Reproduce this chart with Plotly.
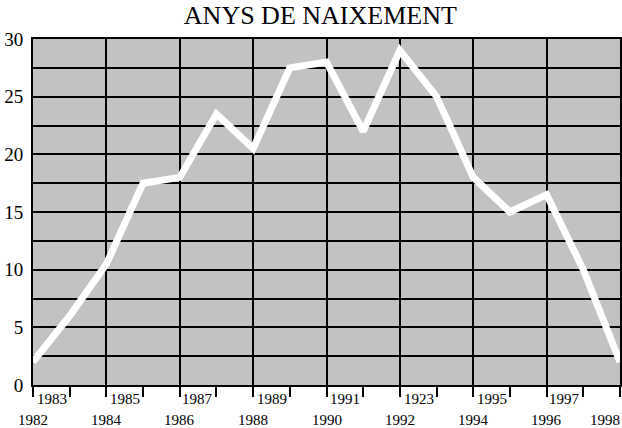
import plotly.graph_objects as go

years = list(range(1982, 1999))
values = [2, 6, 10.5, 17.5, 18, 23.5, 20.5, 27.5, 28, 22, 29, 25, 18, 15, 16.5, 10, 2]
even_years = [y for y in years if y % 2 == 0]
even_labels = [str(y) for y in even_years]
odd_years = [y for y in years if y % 2 == 1]
odd_labels = ["1983", "1985", "1987", "1989", "1991", "1923", "1995", "1997"]
y_ticks = [0, 5, 10, 15, 20, 25, 30]

FONT = "Liberation Serif"

fig = go.Figure()
fig.add_trace(go.Scatter(
    x=years, y=values, mode="lines",
    line=dict(color="white", width=7),
    hoverinfo="skip", showlegend=False, cliponaxis=True,
))

for yr, lab in zip(odd_years, odd_labels):
    fig.add_annotation(
        x=yr, y=0, xref="x", yref="paper", text=lab, showarrow=False,
        xanchor="right", yanchor="middle", xshift=-1, yshift=-14,
        font=dict(family=FONT, size=15, color="black"),
    )

for i, (yr, lab) in enumerate(zip(even_years, even_labels)):
    last = i == len(even_years) - 1
    fig.add_annotation(
        x=yr, y=0, xref="x", yref="paper", text=lab, showarrow=False,
        xanchor="right" if last else "center", yanchor="middle",
        xshift=2 if last else 0, yshift=-35,
        font=dict(family=FONT, size=15, color="black"),
    )

fig.update_layout(
    width=622, height=428,
    margin=dict(l=33, r=2, t=39, b=43, autoexpand=False),
    paper_bgcolor="white",
    plot_bgcolor="#c2c2c2",
    title=dict(text="ANYS DE NAIXEMENT", x=0.515, xanchor="center",
               xref="container", yref="container",
               y=1 - 15 / 428, yanchor="middle", automargin=False,
               font=dict(family=FONT, size=26, color="black")),
    font=dict(family=FONT, color="black"),
    xaxis=dict(
        range=[1982, 1998], tickmode="array", tickvals=even_years, ticktext=[""] * len(even_years),
        showgrid=True, gridcolor="black", gridwidth=2, automargin=False,
        ticks="outside", ticklen=10, tickwidth=2, tickcolor="black",
        minor=dict(tickmode="array", tickvals=odd_years, ticks="outside", ticklen=10,
                   tickwidth=2, tickcolor="black", showgrid=False),
        showline=True, linecolor="black", linewidth=2, mirror=True,
        zeroline=False,
    ),
    yaxis=dict(
        range=[0, 30], tickmode="array", tickvals=y_ticks, automargin=False,
        showgrid=True, gridcolor="black", gridwidth=2,
        ticks="", ticklabelstandoff=4,
        tickfont=dict(family=FONT, size=19, color="black"),
        minor=dict(dtick=2.5, tick0=0, showgrid=True, gridcolor="black", gridwidth=2),
        showline=True, linecolor="black", linewidth=2, mirror=True,
        zeroline=False,
    ),
)

fig.write_html(
    "out.html",
    config={"displayModeBar": False},
    post_script="document.body.style.margin='0';document.body.style.overflow='hidden';",
)
